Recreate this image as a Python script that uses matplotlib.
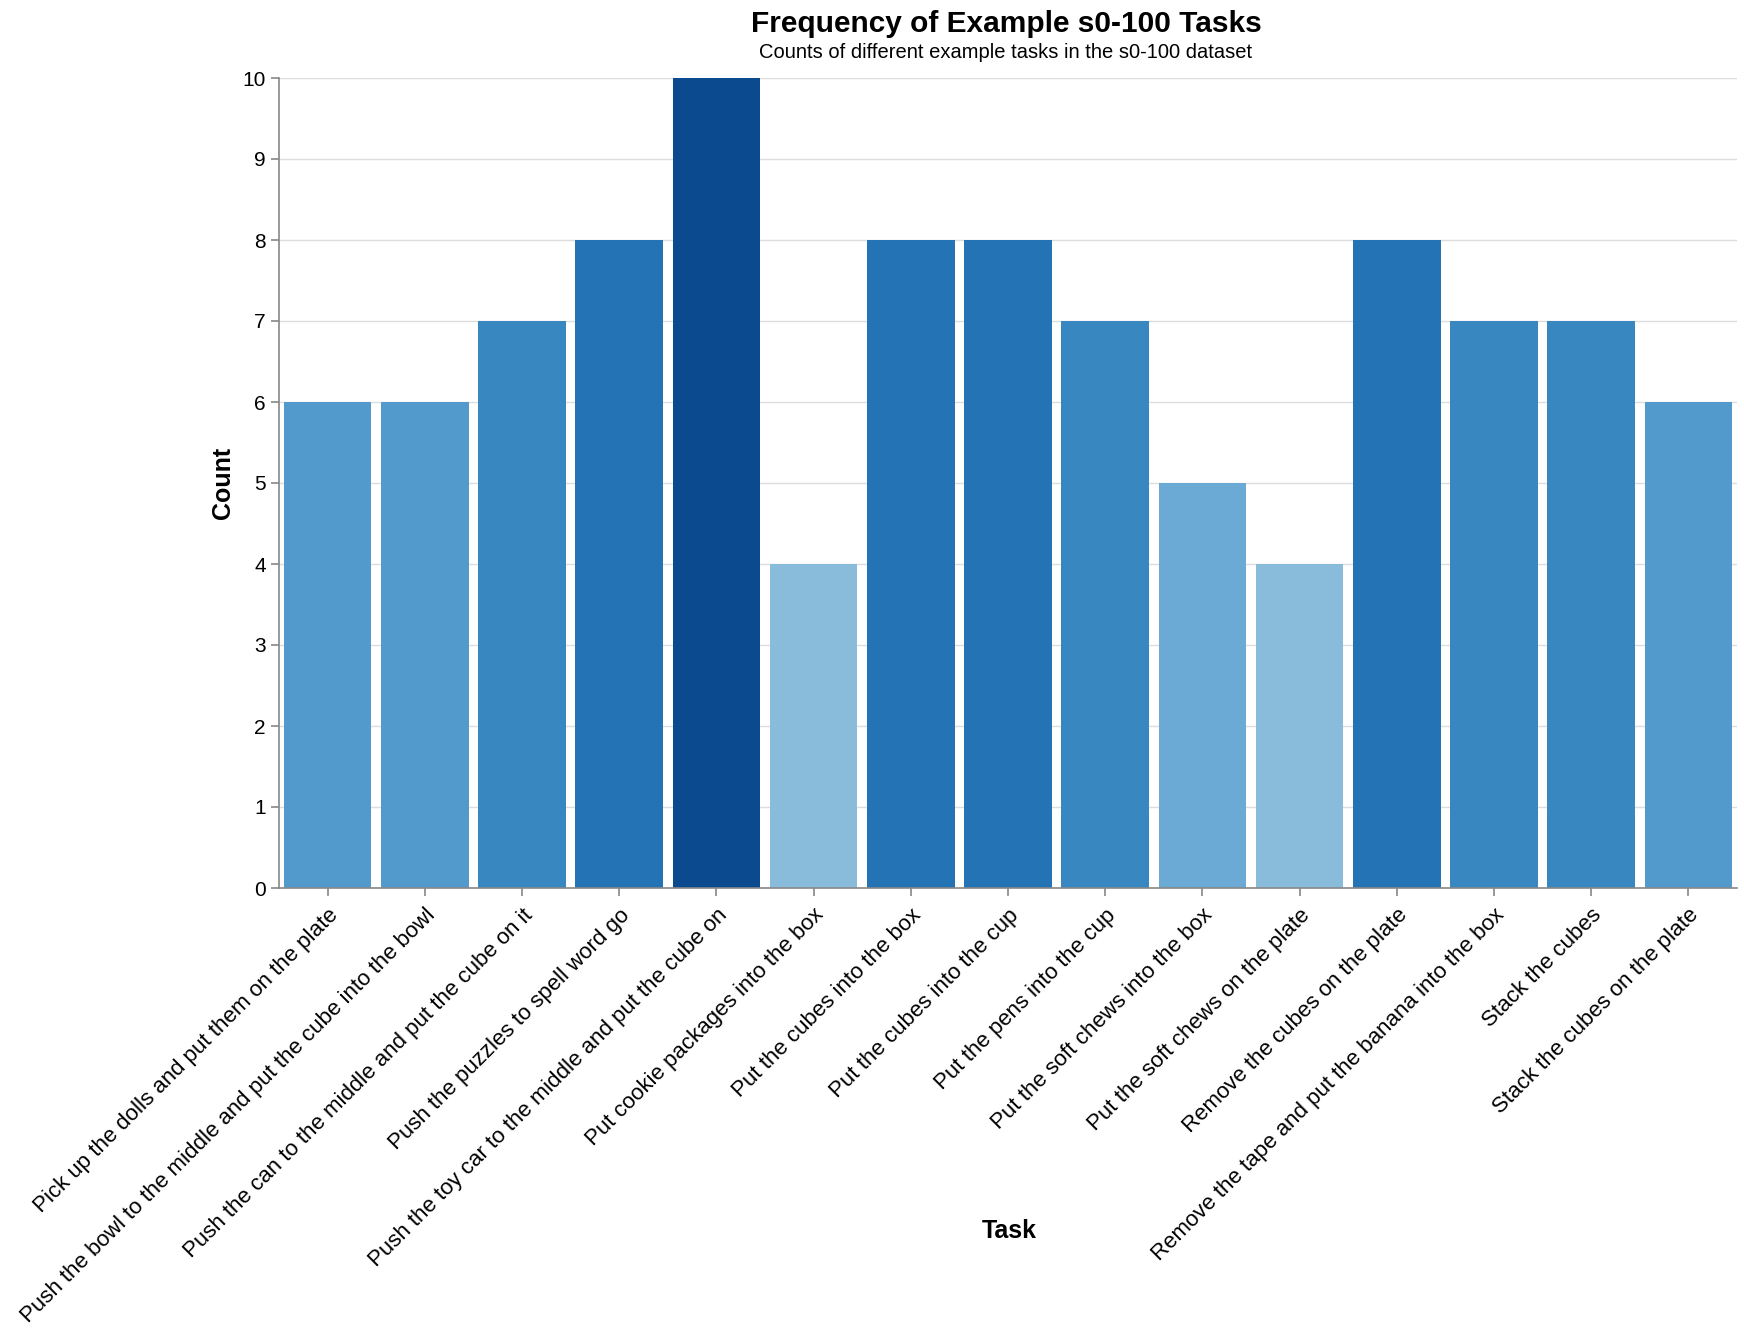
import matplotlib

matplotlib.use("Agg")
import matplotlib.pyplot as plt  # noqa: E402

plt.rcParams["font.family"] = ["Liberation Sans", "DejaVu Sans"]

tasks = [
    "Pick up the dolls and put them on the plate",
    "Push the bowl to the middle and put the cube into the bowl",
    "Push the can to the middle and put the cube on it",
    "Push the puzzles to spell word go",
    "Push the toy car to the middle and put the cube on",
    "Put cookie packages into the box",
    "Put the cubes into the box",
    "Put the cubes into the cup",
    "Put the pens into the cup",
    "Put the soft chews into the box",
    "Put the soft chews on the plate",
    "Remove the cubes on the plate",
    "Remove the tape and put the banana into the box",
    "Stack the cubes",
    "Stack the cubes on the plate",
]
counts = [6, 6, 7, 8, 10, 4, 8, 8, 7, 5, 4, 8, 7, 7, 6]

# colour by count (blues scheme)
_BLUES = {
    4: "#89bbdb",
    5: "#6aaad4",
    6: "#529acb",
    7: "#3987c0",
    8: "#2473b5",
    10: "#0b4a8f",
}

W, H = 1744, 1339
fig = plt.figure(figsize=(W / 100, H / 100), dpi=100)
left, right, top, bottom = 279, 1737, 78, 888
ax = fig.add_axes([left / W, 1 - bottom / H, (right - left) / W, (bottom - top) / H])

x = range(len(tasks))
ax.bar(x, counts, width=0.9, color=[_BLUES[c] for c in counts], zorder=2)

ax.set_xlim(-0.5, len(tasks) - 0.5)
ax.set_ylim(0, 10)
ax.set_yticks(range(0, 11))
ax.grid(axis="y", color="#dddddd", linewidth=1, zorder=0)
ax.set_axisbelow(True)

for side in ("top", "right"):
    ax.spines[side].set_visible(False)
for side in ("left", "bottom"):
    ax.spines[side].set_color("#888888")
    ax.spines[side].set_linewidth(1.2)

ax.tick_params(axis="both", color="#888888", length=6, width=1.2, labelsize=15)
ax.tick_params(axis="x", pad=6)
ax.set_xticks(list(x))
ax.set_xticklabels(tasks, rotation=45, ha="right", rotation_mode="anchor", fontsize=16)

ax.set_ylabel("Count", fontsize=18, weight="bold")
ax.set_xlabel("Task", fontsize=18, weight="bold")
ax.xaxis.set_label_coords((1009 - left) / (right - left), -(1231 - bottom) / (bottom - top))
ax.yaxis.set_label_coords(-(left - 223) / (right - left), 0.5)
ax.xaxis.label.set_va("center")
ax.yaxis.label.set_va("center")

fig.text(1006 / W, 1 - 32 / H, "Frequency of Example s0-100 Tasks",
         ha="center", va="baseline", fontsize=21.5, weight="bold")
fig.text(1006 / W, 1 - 58 / H, "Counts of different example tasks in the s0-100 dataset",
         ha="center", va="baseline", fontsize=14.5)

fig.savefig("out.png", dpi=100)
plt.close(fig)
